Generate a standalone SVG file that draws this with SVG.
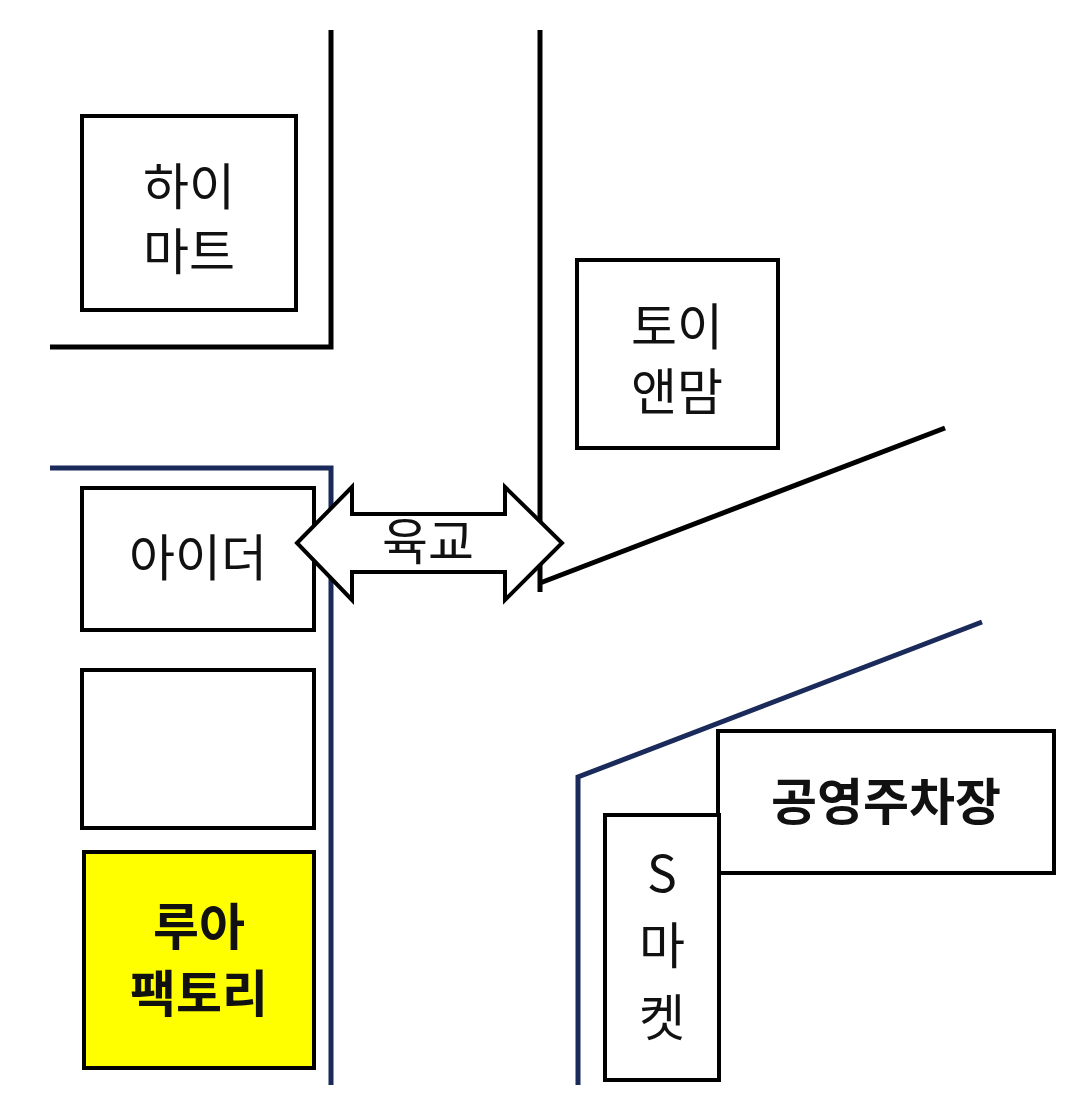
<svg xmlns="http://www.w3.org/2000/svg" width="1080" height="1101" viewBox="0 0 1080 1101">
<style>
.b{fill:#fff;stroke:#000;stroke-width:4}
.k{fill:none;stroke:#000;stroke-width:5}
.n{fill:none;stroke:#1a2a5a;stroke-width:5}
text{font-family:"Noto Sans CJK KR","Liberation Sans",sans-serif;font-size:50px;text-anchor:middle;fill:#111}
.bd{font-weight:bold}
</style>
<rect width="1080" height="1101" fill="#fff"/>
<g id="roads">
<polyline class="k" points="50,347 331,347 331,30"/>
<line class="k" x1="540" y1="30" x2="540" y2="592"/>
<line class="k" x1="540" y1="583" x2="945" y2="428"/>
<polyline class="n" points="50,468 331,468 331,1085"/>
<polyline class="n" points="578,1085 578,777 982,622"/>
</g>
<g id="himart"><rect class="b" x="82" y="116" width="214" height="194"/><text x="189" y="205">하이</text><text x="189" y="270">마트</text></g>
<g id="toy"><rect class="b" x="577" y="260" width="201" height="188"/><text x="677" y="345">토이</text><text x="677" y="410">앤맘</text></g>
<g id="eider"><rect class="b" x="82" y="488" width="232" height="142"/><text x="198" y="576">아이더</text></g>
<g id="empty"><rect class="b" x="82" y="670" width="232" height="158"/></g>
<g id="rua"><rect x="84" y="852" width="230" height="216" fill="#ffff00" stroke="#000" stroke-width="4"/><text class="bd" x="199" y="945">루아</text><text class="bd" x="199" y="1012">팩토리</text></g>
<g id="bridge"><polygon points="297,543 352,487 352,514 505,514 505,487 562,543 505,600 505,572 352,572 352,600" fill="#fff" stroke="#000" stroke-width="4"/><text x="428" y="560" font-size="46">육교</text></g>
<g id="parking"><rect class="b" x="718" y="731" width="336" height="142"/><text class="bd" x="886" y="820" font-size="46">공영주차장</text></g>
<g id="smarket"><rect class="b" x="605" y="815" width="114" height="265"/><text x="662" y="892" font-size="46">S</text><text x="662" y="964" font-size="46">마</text><text x="662" y="1036" font-size="46">켓</text></g>
</svg>
